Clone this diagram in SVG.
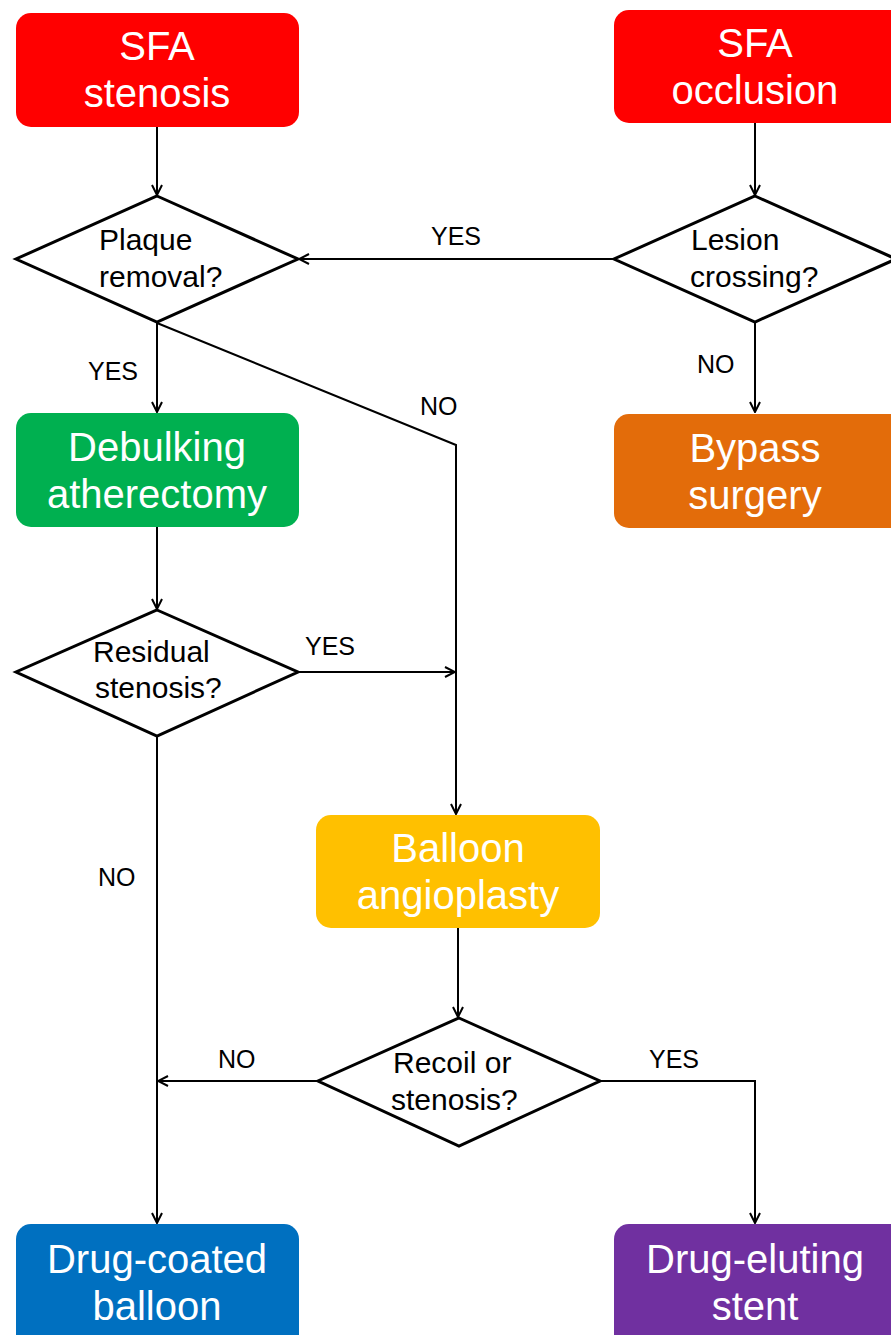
<svg xmlns="http://www.w3.org/2000/svg" width="891" height="1335" viewBox="0 0 891 1335">
<style>
.box{stroke:none}
.bt{font-family:"Liberation Sans",Arial,sans-serif;font-size:40px;fill:#fff;text-anchor:middle}
.dia{fill:#fff;stroke:#000;stroke-width:3;stroke-linejoin:miter}
.dt{font-family:"Liberation Sans",Arial,sans-serif;font-size:30px;fill:#000}
.lbl{font-family:"Liberation Sans",Arial,sans-serif;font-size:25px;fill:#000}
.c{fill:none;stroke:#000;stroke-width:2}
</style>
<defs>
<marker id="ah" viewBox="0 0 12 12" refX="11" refY="6" markerWidth="12" markerHeight="12" markerUnits="userSpaceOnUse" orient="auto">
<path d="M1,1 L11,6 L1,11" fill="none" stroke="#000" stroke-width="2"/>
</marker>
</defs>
<rect width="891" height="1335" fill="#fff"/>
<g id="connectors">
<path class="c" d="M157,126 L157,195" marker-end="url(#ah)"/>
<path class="c" d="M755,122 L755,195" marker-end="url(#ah)"/>
<path class="c" d="M614,259 L299,259" marker-end="url(#ah)"/>
<path class="c" d="M157,323 L157,412" marker-end="url(#ah)"/>
<path class="c" d="M157,323 L456,445 L456,814" marker-end="url(#ah)"/>
<path class="c" d="M755,323 L755,412" marker-end="url(#ah)"/>
<path class="c" d="M157,527 L157,609" marker-end="url(#ah)"/>
<path class="c" d="M299,672 L455,672" marker-end="url(#ah)"/>
<path class="c" d="M157,736 L157,1223" marker-end="url(#ah)"/>
<path class="c" d="M458,928 L458,1017" marker-end="url(#ah)"/>
<path class="c" d="M318,1081 L158,1081" marker-end="url(#ah)"/>
<path class="c" d="M600,1081 L755,1081 L755,1223" marker-end="url(#ah)"/>
<text class="lbl" x="431" y="245">YES</text>
<text class="lbl" x="88" y="380">YES</text>
<text class="lbl" x="420" y="415">NO</text>
<text class="lbl" x="697" y="373">NO</text>
<text class="lbl" x="305" y="655">YES</text>
<text class="lbl" x="98" y="886">NO</text>
<text class="lbl" x="218" y="1068">NO</text>
<text class="lbl" x="649" y="1068">YES</text>
</g>
<g id="sfa-stenosis">
<rect class="box" x="16" y="13" width="283" height="114" rx="15" fill="#FF0000"/>
<text class="bt" x="157" y="60">SFA</text>
<text class="bt" x="157" y="107">stenosis</text>
</g>
<g id="sfa-occlusion">
<rect class="box" x="614" y="10" width="290" height="113" rx="15" fill="#FF0000"/>
<text class="bt" x="755" y="57">SFA</text>
<text class="bt" x="755" y="104">occlusion</text>
</g>
<g id="plaque-removal">
<polygon class="dia" points="157,196 298,259 157,322 16,259"/>
<text class="dt" x="99" y="250">Plaque</text>
<text class="dt" x="99" y="287">removal?</text>
</g>
<g id="lesion-crossing">
<polygon class="dia" points="755,196 896,259 755,322 614,259"/>
<text class="dt" x="691" y="250">Lesion</text>
<text class="dt" x="690" y="287">crossing?</text>
</g>
<g id="debulking">
<rect class="box" x="16" y="413" width="283" height="114" rx="15" fill="#00B050"/>
<text class="bt" x="157" y="461">Debulking</text>
<text class="bt" x="157" y="508">atherectomy</text>
</g>
<g id="bypass">
<rect class="box" x="614" y="414" width="290" height="114" rx="15" fill="#E36C0A"/>
<text class="bt" x="755" y="462">Bypass</text>
<text class="bt" x="755" y="509">surgery</text>
</g>
<g id="residual-stenosis">
<polygon class="dia" points="157,610 298,672 157,736 16,672"/>
<text class="dt" x="93" y="662">Residual</text>
<text class="dt" x="95" y="698">stenosis?</text>
</g>
<g id="balloon-angioplasty">
<rect class="box" x="316" y="815" width="284" height="113" rx="15" fill="#FFC000"/>
<text class="bt" x="458" y="862">Balloon</text>
<text class="bt" x="458" y="909">angioplasty</text>
</g>
<g id="recoil">
<polygon class="dia" points="459,1018 600,1081 459,1146 318,1081"/>
<text class="dt" x="393" y="1073">Recoil or</text>
<text class="dt" x="391" y="1110">stenosis?</text>
</g>
<g id="drug-coated-balloon">
<rect class="box" x="16" y="1224" width="283" height="125" rx="15" fill="#0070C0"/>
<text class="bt" x="157" y="1273">Drug-coated</text>
<text class="bt" x="157" y="1320">balloon</text>
</g>
<g id="drug-eluting-stent">
<rect class="box" x="614" y="1224" width="290" height="125" rx="15" fill="#7030A0"/>
<text class="bt" x="755" y="1273">Drug-eluting</text>
<text class="bt" x="755" y="1320">stent</text>
</g>
</svg>
